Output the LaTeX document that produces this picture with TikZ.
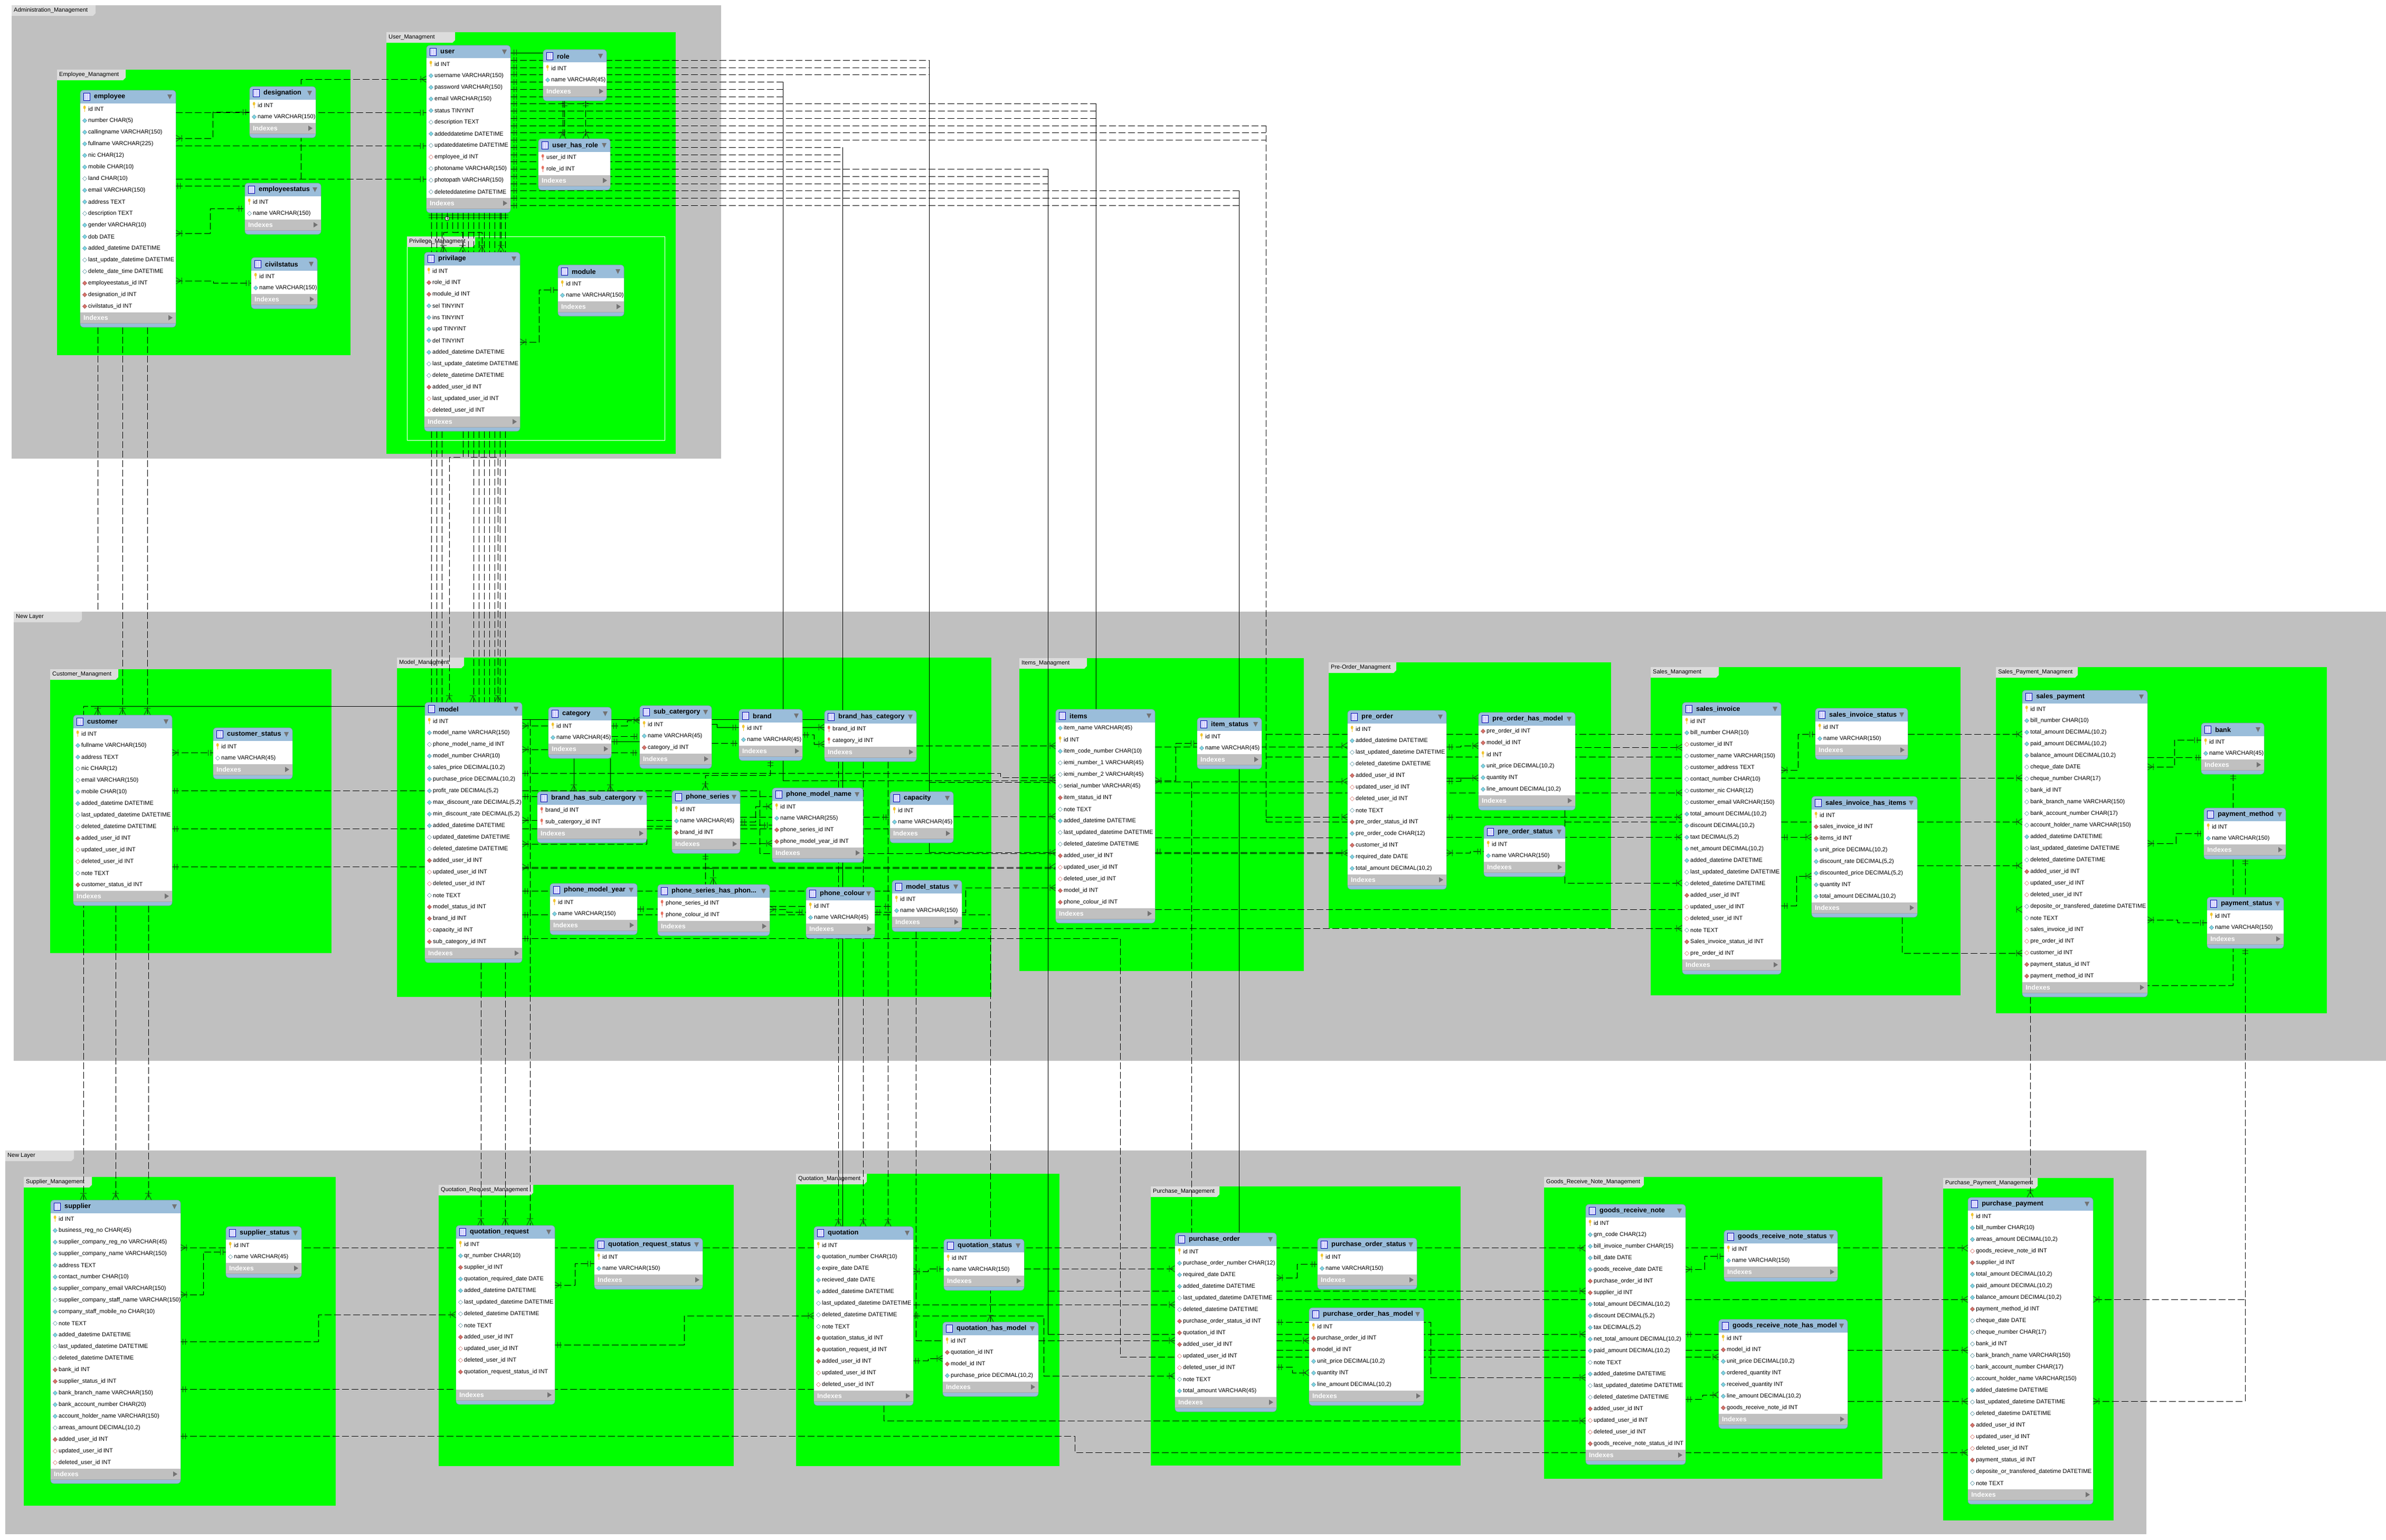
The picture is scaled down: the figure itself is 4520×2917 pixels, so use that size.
\documentclass[tikz,border=0pt]{standalone}
\usepackage{fontspec}
\setmainfont{Liberation Sans}
\pgfdeclarelayer{bgl}
\pgfdeclarelayer{lines}
\pgfsetlayers{bgl,lines,main}
\definecolor{hdr}{HTML}{9ABDDA}
\definecolor{idx}{HTML}{C0C0C0}
\definecolor{lay}{HTML}{C0C0C0}
\definecolor{tabc}{HTML}{DCDCDC}
\definecolor{grn}{HTML}{00FF00}
\definecolor{mkc}{HTML}{164F16}
\definecolor{dcy}{HTML}{7FD6E6}
\definecolor{dred}{HTML}{D9736B}
\definecolor{kyel}{HTML}{F2C530}
\definecolor{kred}{HTML}{E8705F}
\tikzset{
  fk/.style={black,line width=.9pt,dash pattern=on 13pt off 5pt},
  fks/.style={black,line width=.9pt},
  bus/.style={black,line width=.7pt},
  mk/.style={mkc,line width=1pt},
  rowtxt/.style={font=\fontsize{11}{13}\selectfont,anchor=west,inner sep=0pt,text=black},
  ttl/.style={font=\fontsize{12.8}{15}\selectfont\bfseries,anchor=west,inner sep=0pt,text=black},
  idxtxt/.style={font=\fontsize{12.5}{14}\selectfont\bfseries,anchor=west,inner sep=0pt,text=white},
  tabtxt/.style={font=\fontsize{11}{13}\selectfont,anchor=west,inner sep=0pt,text=black},
}
\newcounter{rwc}
% region box
\newcommand\region[8]{% name x1 y1 x2 y2 tabx label colour
  \fill[#8] (#2,#3) rectangle (#4,#5);
  \fill[tabc] (#2,#3) -- (#6,#3) -- (#6,#3+15) -- (#6-5,#3+20) -- (#2,#3+20) -- cycle;
  \node[tabtxt] (#1) at (#2+4,#3+10) {#7};
}
% table: name x1 x2 top title nrows rows
\newcommand\etab[7]{%
  \pgfmathsetmacro\tw{#3-#2}%
  \pgfmathsetmacro\th{53+22*#6}%
  \pgfmathsetmacro\yb{#4+24.5+22*#6}%
  \node[fill=hdr,draw=hdr!80!black,line width=.6pt,rounded corners=6pt,inner sep=0pt,outer sep=0pt,anchor=north west,minimum width=\tw pt,minimum height=\th pt] (#1) at (#2,#4) {};
  \fill[white] (#2,#4+24.5) rectangle (#3,\yb);
  \fill[idx] (#2,\yb) rectangle (#3,\yb+21);
  \draw[black!35,line width=.8pt] (#2,\yb+21) -- (#3,\yb+21);
  \draw[blue!70!black,fill=blue!12,line width=.8pt] (#2+6,#4+5) rectangle (#2+18,#4+19);
  \draw[blue!25,line width=.6pt] (#2+9,#4+7) -- (#2+9,#4+18) (#2+13,#4+7) -- (#2+13,#4+18);
  \fill[black!55] (#3-16,#4+8) -- (#3-7,#4+8) -- (#3-11.5,#4+17) -- cycle;
  \fill[black!55] (#3-14,\yb+5.5) -- (#3-14,\yb+15.5) -- (#3-6,\yb+10.5) -- cycle;
  \node[ttl] (#1-t) at (#2+26,#4+12.5) {#5};
  \node[idxtxt] (#1-i) at (#2+6,\yb+10.5) {Indexes};
  \def\cx{#2}\def\cy{#4}\def\cn{#1}\setcounter{rwc}{0}%
  #7%
}
\newcommand\rowtext[1]{\node[rowtxt] (\cn-\therwc) at (\cx+15,\ry) {#1};}
\newcommand\rowpos{\stepcounter{rwc}\pgfmathsetmacro\ry{\cy+24.5+22*(\therwc-0.5)}}
\newcommand\dia[2]{\draw[#2,fill=#1,line width=.6pt] (\cx+4.5,\ry) -- (\cx+8.5,\ry-4) -- (\cx+12.5,\ry) -- (\cx+8.5,\ry+4) -- cycle;}
\newcommand\keyicon[1]{\fill[#1] (\cx+7.5,\ry-1) rectangle (\cx+9,\ry+5);\fill[#1] (\cx+8.2,\ry-3) ellipse (2.4 and 3.4);}
\newcommand\rP[1]{\rowpos\keyicon{kyel}\rowtext{#1}}
\newcommand\rK[1]{\rowpos\keyicon{kred}\rowtext{#1}}
\newcommand\rF[1]{\rowpos\dia{dred}{dred!70!black}\rowtext{#1}}
\newcommand\rR[1]{\rowpos\dia{white}{dred}\rowtext{#1}}
\newcommand\rC[1]{\rowpos\dia{dcy}{dcy!70!black}\rowtext{#1}}
\newcommand\rE[1]{\rowpos\dia{white}{dcy!70!black}\rowtext{#1}}
% connectors
\newcommand\Hh[3]{\draw[fk] (#1 |- 0,#3) -- (#2 |- 0,#3);}
\newcommand\Hs[3]{\draw[fks] (#1 |- 0,#3) -- (#2 |- 0,#3);}
\newcommand\Zz[5]{\draw[fk] (#1 |- 0,#2) -- (#3,#2) -- (#3,#4) -- (#5 |- 0,#4);}
\newcommand\Vv[3]{\draw[fk] (#2 -| #1,0) -- (#3 -| #1,0);}
\newcommand\Vs[3]{\draw[bus] (#2 -| #1,0) -- (#3 -| #1,0);}
% marks
\newcommand\bH[2]{\draw[mk] (#1-2.5,#2-5.5) -- (#1-2.5,#2+5.5) (#1+2.5,#2-5.5) -- (#1+2.5,#2+5.5);}
\newcommand\bV[2]{\draw[mk] (#1-5.5,#2-2.5) -- (#1+5.5,#2-2.5) (#1-5.5,#2+2.5) -- (#1+5.5,#2+2.5);}
\newcommand\cL[2]{\draw[mk] (#1,#2-6) -- (#1-10,#2) -- (#1,#2+6) (#1-11,#2-6) -- (#1-11,#2+6);}
\newcommand\cR[2]{\draw[mk] (#1,#2-6) -- (#1+10,#2) -- (#1,#2+6) (#1+11,#2-6) -- (#1+11,#2+6);}
\newcommand\cD[2]{\draw[mk] (#1-6,#2) -- (#1,#2-12) -- (#1+6,#2) (#1-6,#2-13) -- (#1+6,#2-13);}
\begin{document}
\catcode`\_=12
\begin{tikzpicture}[x=1pt,y=-1pt]
\useasboundingbox (0,0) rectangle (4520,2917);
\begin{pgfonlayer}{bgl}
\fill[white] (0,0) rectangle (4520,2917);
\region{lgA}{22}{10}{1366}{869}{181}{Administration_Management}{lay}
\region{lgB}{26}{1159}{4520}{2010}{155}{New Layer}{lay}
\region{lgC}{10}{2180}{4066}{2907}{140}{New Layer}{lay}
\region{gEmp}{108}{132}{664}{673}{238}{Employee_Managment}{grn}
\region{gUsr}{732}{61}{1280}{860}{862}{User_Managment}{grn}
\draw[white,line width=.8pt] (771,448) rectangle (1259,834);
\fill[tabc] (771,448) -- (900,448) -- (900,463) -- (895,468) -- (771,468) -- cycle;
\node[tabtxt] (gPriv) at (775,458) {Privilege_Managment};
\region{gCus}{95}{1268}{628}{1806}{224}{Customer_Managment}{grn}
\region{gMod}{752}{1246}{1878}{1889}{879}{Model_Managment}{grn}
\region{gItm}{1931}{1247}{2470}{1840}{2059}{Items_Managment}{grn}
\region{gPre}{2517}{1255}{3052}{1759}{2645}{Pre-Order_Managment}{grn}
\region{gSal}{3127}{1264}{3714}{1886}{3256}{Sales_Managment}{grn}
\region{gSpy}{3781}{1264}{4408}{1920}{3936}{Sales_Payment_Managment}{grn}
\region{gSup}{45}{2230}{636}{2853}{174}{Supplier_Management}{grn}
\region{gQrq}{831}{2245}{1390}{2778}{1010}{Quotation_Request_Management}{grn}
\region{gQuo}{1508}{2224}{2007}{2778}{1642}{Quotation_Management}{grn}
\region{gPur}{2180}{2248}{2767}{2777}{2310}{Purchase_Management}{grn}
\region{gGrn}{2925}{2230}{3566}{2802}{3114}{Goods_Receive_Note_Management}{grn}
\region{gPpy}{3681}{2232}{4004}{2881}{3860}{Purchase_Payment_Management}{grn}
\end{pgfonlayer}
% ---------- tables ----------
\etab{employee}{152}{333}{171}{employee}{18}{\rP{id INT}\rC{number CHAR(5)}\rC{callingname VARCHAR(150)}\rC{fullname VARCHAR(225)}\rC{nic CHAR(12)}\rC{mobile CHAR(10)}\rE{land CHAR(10)}\rC{email VARCHAR(150)}\rC{address TEXT}\rE{description TEXT}\rC{gender VARCHAR(10)}\rC{dob DATE}\rC{added_datetime DATETIME}\rE{last_update_datetime DATETIME}\rE{delete_date_time DATETIME}\rF{employeestatus_id INT}\rF{designation_id INT}\rF{civilstatus_id INT}}
\etab{designation}{473}{598}{164}{designation}{2}{\rP{id INT}\rC{name VARCHAR(150)}}
\etab{employeestatus}{464}{608}{347}{employeestatus}{2}{\rP{id INT}\rE{name VARCHAR(150)}}
\etab{civilstatus}{476}{601}{488}{civilstatus}{2}{\rP{id INT}\rC{name VARCHAR(150)}}
\etab{user}{808}{967}{86}{user}{12}{\rP{id INT}\rC{username VARCHAR(150)}\rC{password VARCHAR(150)}\rC{email VARCHAR(150)}\rC{status TINYINT}\rE{description TEXT}\rC{addeddatetime DATETIME}\rE{updateddatetime DATETIME}\rR{employee_id INT}\rE{photoname VARCHAR(150)}\rE{photopath VARCHAR(150)}\rE{deleteddatetime DATETIME}}
\etab{role}{1029}{1149}{94}{role}{2}{\rP{id INT}\rC{name VARCHAR(45)}}
\etab{user_has_role}{1020}{1156}{263}{user_has_role}{2}{\rK{user_id INT}\rK{role_id INT}}
\etab{privilage}{804}{985}{478}{privilage}{13}{\rP{id INT}\rF{role_id INT}\rF{module_id INT}\rC{sel TINYINT}\rC{ins TINYINT}\rC{upd TINYINT}\rC{del TINYINT}\rC{added_datetime DATETIME}\rE{last_update_datetime DATETIME}\rE{delete_datetime DATETIME}\rF{added_user_id INT}\rR{last_updated_user_id INT}\rR{deleted_user_id INT}}
\etab{module}{1057}{1182}{502}{module}{2}{\rP{id INT}\rC{name VARCHAR(150)}}
\etab{customer}{139}{326}{1355}{customer}{14}{\rP{id INT}\rC{fullname VARCHAR(150)}\rC{address TEXT}\rE{nic CHAR(12)}\rE{email VARCHAR(150)}\rC{mobile CHAR(10)}\rC{added_datetime DATETIME}\rE{last_updated_datetime DATETIME}\rE{deleted_datetime DATETIME}\rF{added_user_id INT}\rR{updated_user_id INT}\rR{deleted_user_id INT}\rE{note TEXT}\rF{customer_status_id INT}}
\etab{customer_status}{404}{554}{1379}{customer_status}{2}{\rP{id INT}\rE{name VARCHAR(45)}}
\etab{model}{805}{989}{1331}{model}{20}{\rP{id INT}\rC{model_name VARCHAR(150)}\rE{phone_model_name_id INT}\rC{model_number CHAR(10)}\rC{sales_price DECIMAL(10,2)}\rC{purchase_price DECIMAL(10,2)}\rC{profit_rate DECIMAL(5,2)}\rC{max_discount_rate DECIMAL(5,2)}\rC{min_discount_rate DECIMAL(5,2)}\rC{added_datetime DATETIME}\rE{updated_datetime DATETIME}\rE{deleted_datetime DATETIME}\rF{added_user_id INT}\rR{updated_user_id INT}\rR{deleted_user_id INT}\rE{note TEXT}\rF{model_status_id INT}\rF{brand_id INT}\rR{capacity_id INT}\rF{sub_category_id INT}}
\etab{category}{1039}{1158}{1340}{category}{2}{\rP{id INT}\rC{name VARCHAR(45)}}
\etab{sub_catergory}{1212}{1348}{1337}{sub_catergory}{3}{\rP{id INT}\rC{name VARCHAR(45)}\rF{category_id INT}}
\etab{brand}{1400}{1520}{1344}{brand}{2}{\rP{id INT}\rC{name VARCHAR(45)}}
\etab{brand_has_category}{1562}{1736}{1346}{brand_has_category}{2}{\rK{brand_id INT}\rK{category_id INT}}
\etab{brand_has_sub_catergory}{1018}{1225}{1500}{brand_has_sub_catergory}{2}{\rK{brand_id INT}\rK{sub_catergory_id INT}}
\etab{phone_series}{1273}{1402}{1498}{phone_series}{3}{\rP{id INT}\rC{name VARCHAR(45)}\rF{brand_id INT}}
\etab{phone_model_name}{1463}{1635}{1493}{phone_model_name}{4}{\rP{id INT}\rC{name VARCHAR(255)}\rF{phone_series_id INT}\rF{phone_model_year_id INT}}
\etab{capacity}{1686}{1806}{1500}{capacity}{2}{\rP{id INT}\rC{name VARCHAR(45)}}
\etab{phone_model_year}{1042}{1207}{1674}{phone_model_year}{2}{\rP{id INT}\rC{name VARCHAR(150)}}
\etab{phone_series_has}{1246}{1458}{1676}{phone_series_has_phon...}{2}{\rK{phone_series_id INT}\rK{phone_colour_id INT}}
\etab{phone_colour}{1527}{1657}{1681}{phone_colour}{2}{\rP{id INT}\rC{name VARCHAR(45)}}
\etab{model_status}{1690}{1822}{1668}{model_status}{2}{\rP{id INT}\rC{name VARCHAR(150)}}
\etab{items}{2000}{2188}{1344}{items}{16}{\rC{item_name VARCHAR(45)}\rP{id INT}\rC{item_code_number CHAR(10)}\rE{iemi_number_1 VARCHAR(45)}\rE{iemi_number_2 VARCHAR(45)}\rE{serial_number VARCHAR(45)}\rF{item_status_id INT}\rE{note TEXT}\rC{added_datetime DATETIME}\rE{last_updated_datetime DATETIME}\rE{deleted_datetime DATETIME}\rF{added_user_id INT}\rR{updated_user_id INT}\rR{deleted_user_id INT}\rF{model_id INT}\rF{phone_colour_id INT}}
\etab{item_status}{2268}{2390}{1360}{item_status}{2}{\rP{id INT}\rC{name VARCHAR(45)}}
\etab{pre_order}{2553}{2740}{1346}{pre_order}{13}{\rP{id INT}\rC{added_datetime DATETIME}\rE{last_updated_datetime DATETIME}\rE{deleted_datetime DATETIME}\rF{added_user_id INT}\rR{updated_user_id INT}\rR{deleted_user_id INT}\rE{note TEXT}\rF{pre_order_status_id INT}\rC{pre_order_code CHAR(12)}\rF{customer_id INT}\rC{required_date DATE}\rC{total_amount DECIMAL(10,2)}}
\etab{pre_order_has_model}{2801}{2984}{1350}{pre_order_has_model}{6}{\rF{pre_order_id INT}\rF{model_id INT}\rP{id INT}\rC{unit_price DECIMAL(10,2)}\rC{quantity INT}\rC{line_amount DECIMAL(10,2)}}
\etab{pre_order_status}{2811}{2965}{1564}{pre_order_status}{2}{\rP{id INT}\rC{name VARCHAR(150)}}
\etab{sales_invoice}{3187}{3374}{1331}{sales_invoice}{21}{\rP{id INT}\rC{bill_number CHAR(10)}\rR{customer_id INT}\rE{customer_name VARCHAR(150)}\rE{customer_address TEXT}\rE{contact_number CHAR(10)}\rE{customer_nic CHAR(12)}\rE{customer_email VARCHAR(150)}\rC{total_amount DECIMAL(10,2)}\rC{discount DECIMAL(10,2)}\rC{taxt DECIMAL(5,2)}\rC{net_amount DECIMAL(10,2)}\rC{added_datetime DATETIME}\rE{last_updated_datetime DATETIME}\rE{deleted_datetime DATETIME}\rF{added_user_id INT}\rR{updated_user_id INT}\rR{deleted_user_id INT}\rE{note TEXT}\rF{Sales_invoice_status_id INT}\rR{pre_order_id INT}}
\etab{sales_invoice_status}{3439}{3614}{1342}{sales_invoice_status}{2}{\rP{id INT}\rC{name VARCHAR(150)}}
\etab{sales_invoice_has_items}{3432}{3632}{1509}{sales_invoice_has_items}{8}{\rP{id INT}\rF{sales_invoice_id INT}\rF{items_id INT}\rC{unit_price DECIMAL(10,2)}\rC{discount_rate DECIMAL(5,2)}\rC{discounted_price DECIMAL(5,2)}\rC{quantity INT}\rC{total_amount DECIMAL(10,2)}}
\etab{sales_payment}{3831}{4068}{1308}{sales_payment}{24}{\rP{id INT}\rC{bill_number CHAR(10)}\rC{total_amount DECIMAL(10,2)}\rC{paid_amount DECIMAL(10,2)}\rC{balance_amount DECIMAL(10,2)}\rE{cheque_date DATE}\rE{cheque_number CHAR(17)}\rE{bank_id INT}\rE{bank_branch_name VARCHAR(150)}\rE{bank_account_number CHAR(17)}\rE{account_holder_name VARCHAR(150)}\rC{added_datetime DATETIME}\rE{last_updated_datetime DATETIME}\rE{deleted_datetime DATETIME}\rF{added_user_id INT}\rR{updated_user_id INT}\rR{deleted_user_id INT}\rE{deposite_or_transfered_datetime DATETIME}\rE{note TEXT}\rR{sales_invoice_id INT}\rR{pre_order_id INT}\rR{customer_id INT}\rF{payment_status_id INT}\rF{payment_method_id INT}}
\etab{bank}{4170}{4289}{1370}{bank}{2}{\rP{id INT}\rC{name VARCHAR(45)}}
\etab{payment_method}{4175}{4330}{1531}{payment_method}{2}{\rP{id INT}\rC{name VARCHAR(150)}}
\etab{payment_status}{4181}{4326}{1700}{payment_status}{2}{\rP{id INT}\rC{name VARCHAR(150)}}
\etab{supplier}{96}{342}{2274}{supplier}{22}{\rP{id INT}\rC{business_reg_no CHAR(45)}\rC{supplier_company_reg_no VARCHAR(45)}\rC{supplier_company_name VARCHAR(150)}\rC{address TEXT}\rC{contact_number CHAR(10)}\rC{supplier_company_email VARCHAR(150)}\rE{supplier_company_staff_name VARCHAR(150)}\rC{company_staff_mobile_no CHAR(10)}\rE{note TEXT}\rC{added_datetime DATETIME}\rE{last_updated_datetime DATETIME}\rE{deleted_datetime DATETIME}\rF{bank_id INT}\rF{supplier_status_id INT}\rC{bank_branch_name VARCHAR(150)}\rC{bank_account_number CHAR(20)}\rC{account_holder_name VARCHAR(150)}\rE{arreas_amount DECIMAL(10,2)}\rF{added_user_id INT}\rR{updated_user_id INT}\rR{deleted_user_id INT}}
\etab{supplier_status}{428}{571}{2324}{supplier_status}{2}{\rP{id INT}\rE{name VARCHAR(45)}}
\etab{quotation_request}{864}{1051}{2322}{quotation_request}{13}{\rP{id INT}\rC{qr_number CHAR(10)}\rF{supplier_id INT}\rC{quotation_required_date DATE}\rC{added_datetime DATETIME}\rE{last_updated_datetime DATETIME}\rE{deleted_datetime DATETIME}\rE{note TEXT}\rF{added_user_id INT}\rR{updated_user_id INT}\rR{deleted_user_id INT}\rF{quotation_request_status_id INT}\rowpos}
\etab{quotation_request_status}{1126}{1331}{2346}{quotation_request_status}{2}{\rP{id INT}\rC{name VARCHAR(150)}}
\etab{quotation}{1542}{1730}{2324}{quotation}{13}{\rP{id INT}\rC{quotation_number CHAR(10)}\rC{expire_date DATE}\rC{recieved_date DATE}\rC{added_datetime DATETIME}\rE{last_updated_datetime DATETIME}\rE{deleted_datetime DATETIME}\rE{note TEXT}\rF{quotation_status_id INT}\rF{quotation_request_id INT}\rF{added_user_id INT}\rR{updated_user_id INT}\rR{deleted_user_id INT}}
\etab{quotation_status}{1788}{1940}{2348}{quotation_status}{2}{\rP{id INT}\rC{name VARCHAR(150)}}
\etab{quotation_has_model}{1786}{1967}{2505}{quotation_has_model}{4}{\rP{id INT}\rF{quotation_id INT}\rF{model_id INT}\rC{purchase_price DECIMAL(10,2)}}
\etab{purchase_order}{2226}{2418}{2336}{purchase_order}{13}{\rP{id INT}\rC{purchase_order_number CHAR(12)}\rC{required_date DATE}\rC{added_datetime DATETIME}\rE{last_updated_datetime DATETIME}\rE{deleted_datetime DATETIME}\rF{purchase_order_status_id INT}\rF{quotation_id INT}\rF{added_user_id INT}\rR{updated_user_id INT}\rR{deleted_user_id INT}\rE{note TEXT}\rC{total_amount VARCHAR(45)}}
\etab{purchase_order_status}{2496}{2684}{2346}{purchase_order_status}{2}{\rP{id INT}\rC{name VARCHAR(150)}}
\etab{purchase_order_has_model}{2480}{2697}{2478}{purchase_order_has_model}{6}{\rP{id INT}\rF{purchase_order_id INT}\rF{model_id INT}\rC{unit_price DECIMAL(10,2)}\rC{quantity INT}\rC{line_amount DECIMAL(10,2)}}
\etab{goods_receive_note}{3004}{3193}{2282}{goods_receive_note}{20}{\rP{id INT}\rC{grn_code CHAR(12)}\rC{bill_invoice_number CHAR(15)}\rC{bill_date DATE}\rC{goods_receive_date DATE}\rF{purchase_order_id INT}\rF{supplier_id INT}\rC{total_amount DECIMAL(10,2)}\rC{discount DECIMAL(5,2)}\rC{tax DECIMAL(5,2)}\rC{net_total_amount DECIMAL(10,2)}\rC{paid_amount DECIMAL(10,2)}\rE{note TEXT}\rC{added_datetime DATETIME}\rE{last_updated_datetime DATETIME}\rE{deleted_datetime DATETIME}\rF{added_user_id INT}\rR{updated_user_id INT}\rR{deleted_user_id INT}\rF{goods_receive_note_status_id INT}}
\etab{goods_receive_note_status}{3266}{3481}{2331}{goods_receive_note_status}{2}{\rP{id INT}\rC{name VARCHAR(150)}}
\etab{goods_receive_note_has_model}{3256}{3500}{2500}{goods_receive_note_has_model}{7}{\rP{id INT}\rF{model_id INT}\rC{unit_price DECIMAL(10,2)}\rC{ordered_quantity INT}\rC{received_quantity INT}\rC{line_amount DECIMAL(10,2)}\rF{goods_receive_note_id INT}}
\etab{purchase_payment}{3728}{3965}{2269}{purchase_payment}{24}{\rP{id INT}\rC{bill_number CHAR(10)}\rC{arreas_amount DECIMAL(10,2)}\rR{goods_recieve_note_id INT}\rF{supplier_id INT}\rC{total_amount DECIMAL(10,2)}\rC{paid_amount DECIMAL(10,2)}\rC{balance_amount DECIMAL(10,2)}\rF{payment_method_id INT}\rE{cheque_date DATE}\rE{cheque_number CHAR(17)}\rE{bank_id INT}\rE{bank_branch_name VARCHAR(150)}\rE{bank_account_number CHAR(17)}\rE{account_holder_name VARCHAR(150)}\rC{added_datetime DATETIME}\rE{last_updated_datetime DATETIME}\rE{deleted_datetime DATETIME}\rF{added_user_id INT}\rR{updated_user_id INT}\rR{deleted_user_id INT}\rF{payment_status_id INT}\rE{deposite_or_transfered_datetime DATETIME}\rE{note TEXT}}
% ---------- buses ----------
\coordinate (b1483) at (1483,0);\coordinate (b1596) at (1596,0);\coordinate (b1760) at (1760,0);
\coordinate (b1985) at (1985,0);\coordinate (b2076) at (2076,0);\coordinate (b2347) at (2347,0);
\coordinate (b2398) at (2398,0);\coordinate (b1876) at (1876,0);\coordinate (b1682) at (1682,0);
\coordinate (b2964) at (2964,0);\coordinate (b4253) at (4253,0);\coordinate (j185) at (185,1155);
\begin{pgfonlayer}{lines}
% ---- administration
\Zz{employee.east}{262}{403}{212.5}{designation.west}
\Zz{employee.east}{442}{398}{395}{employeestatus.west}
\Zz{employee.east}{532}{404}{536}{civilstatus.west}
\Hh{employee.east}{user.west}{213}\Hh{employee.east}{user.west}{276}\Hh{employee.east}{user.west}{339.5}
\Hh{employee.east}{employeestatus.west}{352}
\draw[fk] (user.west |- 0,150) -- (570.5,150) -- (570.5,339.5);
\cR{333}{262}\bH{463}{212.5}\cR{333}{442}\bH{455}{395}\cR{333}{532}\bH{469}{536}
\bH{799}{213}\bH{799}{276}\bH{799}{339.5}\cL{808}{150}\bH{339}{352}
\Hs{user.east}{role.west}{100}
\foreach \yy/\bb in {114/b1760,128/b1760,141/b1760,155/b1483,169/b1483,183/b1483,196/b2076,210/b2076,224/b2076,238/b2398,251/b2398,265/b2398,279/b1596,293/b1596,306/b1596,320/b1985,334/b1985,348/b1985,361/b2347,375/b2347,389/b2347}{\Hh{user.east}{\bb}{\yy}\bH{976}{\yy}}
\bH{976}{100}
\draw[bus] (b1760 |- 0,114) -- (b1760 |- 0,1615);
\draw[bus] (b1483 |- 0,155) -- (b1483 |- 0,1479);
\draw[bus] (b2076 |- 0,196) -- (b2076 |- 0,1415);
\draw[fk] (b2398 |- 0,238) -- (b2398 |- 0,1557);
\draw[bus] (b1596 |- 0,279) -- (1596,2324);
\draw[bus] (b1985 |- 0,320) -- (b1985 |- 0,2528);
\draw[bus] (b2347 |- 0,361) -- (b2347 |- 0,2400);
\Vv{1066}{role.south}{user_has_role.north}\Vv{1069}{role.south}{user_has_role.north}\Vv{1109}{role.south}{user_has_role.north}
\bV{1069}{198}\bV{1109}{198}\cD{1066}{263}\cD{1110}{263}
\foreach \xx in {817,827,837,847,857,867,877,887,897,907,917,927,937,947,957}{\bV{\xx}{410}}
\draw[black,fill=white,line width=.8pt] (847,414) circle (4);
\draw[fk] (user.south -| 847,0) -- (847,440) -- (840,440) -- (privilage.north -| 840,0);
\draw[fk] (user.south -| 857,0) -- (857,440) -- (876,440) -- (privilage.north -| 876,0);
\draw[fk] (user.south -| 867,0) -- (867,440);
\draw[fk] (user.south -| 887,0) -- (887,440) -- (913,440) -- (privilage.north -| 913,0);
\draw[fk] (user.south -| 877,0) -- (877,866) -- (851,866) -- (model.north -| 851,0);
\draw[fk] (user.south -| 887,0) -- (887,866) -- (943,866) -- (model.north -| 943,0);
\foreach \xx in {817,827,837,897,917,927,937,947}{\Vv{\xx}{user.south}{model.north}}
\Vv{907}{user.south}{model.north}\Vv{957}{user.south}{model.north}
\Vv{949}{user.south}{privilage.north}
\cD{840}{478}\cD{876}{478}\cD{913}{478}\cD{949}{478}
\Zz{privilage.east}{648}{1021}{549}{module.west}\cR{985}{648}\bH{1046}{549}
\cD{851}{1331}\cD{896}{1331}\cD{943}{1331}
% ---- customer / supplier verticals
\draw[fk] (employee.south -| j185) -- (j185);
\Vv{232}{employee.south}{customer.north}\Vv{279}{employee.south}{customer.north}
\cD{185}{1355}\cD{232}{1355}\cD{279}{1355}
\draw[fks] (model.west |- 0,1338) -- (185,1338) -- (customer.north -| 185,0);
\draw[fk] (185,1338) -- (158,1338) -- (supplier.north -| 158,0);
\Vv{219}{customer.south}{supplier.north}\Vv{281}{customer.south}{supplier.north}
\cD{158}{2274}\cD{219}{2274}\cD{281}{2274}
\Hh{customer.east}{customer_status.west}{1426}\cR{326}{1426}\bH{397}{1426}
\Hh{customer.east}{model.west}{1498}\Hh{customer.east}{model.west}{1570}\Hh{customer.east}{model.west}{1642}
\bH{333}{1498}\bH{333}{1570}\bH{333}{1642}
\Vv{911}{model.south}{quotation_request.north}\Vv{957}{model.south}{quotation_request.north}
\draw[fk] (1004,1363) -- (quotation_request.north -| 1004,0);
\cD{911}{2322}\cD{957}{2322}\cD{1004}{2322}
% ---- model group
\Hs{model.east}{brand_has_category.west}{1363}
\Hh{model.east}{category.west}{1375}\Hh{model.east}{category.west}{1420}
\cR{989}{1375}\cR{989}{1420}\cR{989}{1554}\cR{989}{1599}\cR{989}{1643}
\foreach \yy in {1465,1509,1688,1733,1778}{\bH{997}{\yy}}
\Zz{category.east}{1375}{1188}{1365}{sub_catergory.west}\cL{1212}{1365}\bH{1165}{1375}
\Hh{category.east}{sub_catergory.west}{1395}\bH{1204}{1395}
\Hs{category.east}{sub_catergory.west}{1405}\bH{1166}{1405}
\Hh{category.east}{sub_catergory.west}{1426}\bH{1202}{1426}
\draw[fks] (sub_catergory.east |- 0,1372) -- (1358,1372) -- (1358,1378) -- (brand.west |- 0,1378);
\bH{1391}{1378}
\Hh{sub_catergory.east}{brand.west}{1408}\bH{1391}{1408}
\Hs{brand.east}{brand_has_category.west}{1378}\cL{1562}{1378}
\Zz{brand.east}{1392}{1542}{1410}{brand_has_category.west}\bH{1527}{1392}\cL{1562}{1410}
\Hh{brand_has_category.east}{items.west}{1413}
\draw[fk] (brand.south -| 1459,0) -- (1459,1469) -- (1336,1469) -- (phone_series.north -| 1336,0);
\bV{1459}{1448}\cD{1336}{1498}
\Vs{1087}{category.south}{brand_has_sub_catergory.north}\Vs{1156}{category.south}{brand_has_sub_catergory.north}
\cD{1087}{1500}\cD{1156}{1500}
\Zz{model.east}{1465}{1895}{1473}{items.west}
\Hh{b1483}{items.west}{1479}
\Hh{b1760}{items.west}{1482}
\Zz{model.east}{1498}{1439}{1617}{items.west}
\Hh{model.east}{phone_model_name.west}{1509}
\Hh{model.east}{brand_has_sub_catergory.west}{1554}
\Hh{brand_has_sub_catergory.east}{phone_series.west}{1554}
\Hh{brand_has_sub_catergory.east}{phone_series.west}{1565}
\Hh{phone_series.east}{phone_model_name.west}{1548}
\Hh{phone_series.east}{phone_model_name.west}{1563}\bH{1451}{1563}
\Hh{phone_model_name.east}{capacity.west}{1548}\bH{1676}{1548}
\Hh{capacity.east}{items.west}{1547}
\Hh{model.east}{b1682}{1570}
\draw[fk] (model.east |- 0,1599) -- (1225,1599) -- (1225,1590);
\Zz{phone_series.east}{1557}{1431}{1528}{phone_model_name.west}\bH{1408}{1557}\cL{1463}{1528}
\Hh{phone_series.east}{phone_model_name.west}{1598}\cL{1463}{1598}
\Hh{b1760}{items.west}{1615}
\Hh{model.east}{items.west}{1643}\Hh{model.east}{items.west}{1645}
\Vv{1336}{phone_series.south}{phone_series_has.north}
\draw[fk] (1336,1645) -- (1351,1645) -- (phone_series_has.north -| 1351,0);
\bV{1336}{1625}\cD{1351}{1676}
\Hh{model.east}{model_status.west}{1688}
\Zz{model_status.east}{1729}{1829}{1682}{items.west}
\Hh{model.east}{b1876}{1733}
\Hh{phone_model_year.east}{phone_series_has.west}{1722}\bH{1216}{1722}
\Zz{phone_series_has.east}{1723}{1490}{1728}{phone_colour.west}\cR{1458}{1723}\bH{1517}{1728}
\Hh{phone_series_has.east}{model_status.west}{1717}\bH{1680}{1717}
\Hh{phone_colour.east}{model_status.west}{1728}\bH{1664}{1728}
\Hh{model_status.east}{sales_invoice.west}{1759}
\draw[fk] (model.east |- 0,1778) -- (2122,1778) -- (2122,2571) -- (purchase_order.west |- 0,2571);
\draw[fk] (model_status.south -| 1735,0) -- (1735,2540) -- (quotation_has_model.west |- 0,2540);
\Vv{1588}{brand_has_category.south}{quotation.north}\Vv{1635}{brand_has_category.south}{quotation.north}\Vv{1682}{brand_has_category.south}{quotation.north}
\cD{1588}{2324}\cD{1635}{2324}\cD{1682}{2324}
% ---- items / pre-order
\foreach \yy in {1413,1473,1479,1547,1615,1642,1682}{\cL{2000}{\yy}}
\Zz{items.east}{1479}{2227}{1408.5}{item_status.west}\cR{2188}{1479}\bH{2259}{1408.5}
\Hh{items.east}{pre_order.west}{1415}\Hh{items.east}{pre_order.west}{1481}
\Hh{b2076}{items.east}{1415}
\Hh{items.east}{sales_invoice.west}{1502}
\Hh{items.east}{pre_order.west}{1587}
\Hh{items.east}{pre_order.west}{1615}\Hh{items.east}{pre_order.west}{1617}\bH{2195}{1613}
\Hh{items.east}{sales_invoice.west}{1723}
\draw[fk] (2257,1481) -- (purchase_order.north -| 2257,0);
\Hh{b2398}{sales_invoice.west}{1391}\Hh{b2398}{sales_invoice.west}{1434}
\Hh{b2398}{pre_order.west}{1548}\Hh{b2398}{pre_order.west}{1557}
\foreach \yy in {1413,1480,1548,1616}{\cL{2553}{\yy}}
\Zz{pre_order.east}{1415}{2767}{1413}{pre_order_has_model.west}\bH{2748}{1415}\cL{2801}{1413}
\Zz{pre_order.east}{1480}{2767}{1474}{pre_order_has_model.west}\bH{2748}{1480}\cL{2801}{1474}
\Hh{pre_order_has_model.east}{sales_invoice.west}{1416}
\Hh{pre_order.east}{sales_payment.west}{1474}
\Hh{pre_order.east}{sales_invoice.west}{1548}\bH{2748}{1548}
\draw[fk] (pre_order_has_model.south -| b2964) -- (2964,1673) -- (sales_invoice.west |- 0,1673);
\Hh{b2964}{sales_invoice.west}{1557}
\Hh{pre_order.east}{sales_invoice.west}{1586}
\Zz{pre_order.east}{1616}{2785}{1613}{pre_order_status.west}\cR{2740}{1616}\bH{2802}{1613}
% ---- sales
\foreach \yy in {1416,1502,1548,1586,1673,1759}{\cL{3187}{\yy}}
\Zz{sales_invoice.east}{1459}{3406}{1391}{sales_invoice_status.west}\cR{3374}{1459}\bH{3431}{1391}
\Hh{sales_invoice_status.east}{sales_payment.west}{1391}
\Hh{sales_invoice.east}{sales_invoice_has_items.west}{1557}\Hh{sales_invoice_has_items.east}{sales_payment.west}{1557}
\Hh{sales_invoice.east}{sales_invoice_has_items.west}{1586}\bH{3383}{1586}\cL{3432}{1586}
\Hh{sales_invoice_has_items.east}{sales_payment.west}{1640}
\Zz{sales_invoice.east}{1716}{3403}{1660}{sales_invoice_has_items.west}\bH{3383}{1716}\cL{3432}{1660}
\draw[fk] (sales_invoice_has_items.south -| 3603,0) -- (3603,1806) -- (sales_payment.west |- 0,1806);
\foreach \yy in {1391,1474,1557,1640,1723,1806}{\cL{3831}{\yy}}
\Hh{sales_payment.east}{bank.west}{1435}\bH{4163}{1435}
\Zz{sales_payment.east}{1453}{4119}{1402}{bank.west}\cR{4068}{1453}\bH{4160}{1402}
\Zz{sales_payment.east}{1598}{4122}{1579}{payment_method.west}\cR{4068}{1598}\bH{4166}{1579}
\Zz{sales_payment.east}{1743}{4125}{1748}{payment_status.west}\cR{4068}{1743}\bH{4171}{1748}
\draw[fk] (bank.south -| 4230,0) -- (4230,1867) -- (sales_payment.east |- 0,1867);
\bV{4230}{1473}
\draw[fk] (payment_method.south -| b4253) -- (payment_status.north -| b4253);
\bV{4253}{1634}\bV{4253}{1804}
\draw[fk] (payment_status.south -| b4253) -- (4253,2462) -- (purchase_payment.east |- 0,2462);
\draw[fk] (4253,2462) -- (4253,2655) -- (purchase_payment.east |- 0,2655);
\Vv{3846}{sales_payment.south}{purchase_payment.north}\cD{3846}{2269}
% ---- lower layer
\Hh{supplier.east}{purchase_payment.west}{2364}\cR{342}{2364}
\Zz{supplier.east}{2453}{385}{2372}{supplier_status.west}\cR{342}{2453}\bH{420}{2372}
\Zz{supplier.east}{2542}{603}{2491}{quotation_request.west}\bH{349}{2542}\cL{864}{2491}
\Hh{supplier.east}{quotation.west}{2632}\bH{349}{2632}
\Zz{supplier.east}{2721}{2036}{2752}{purchase_payment.west}\bH{349}{2721}
\Zz{quotation_request.east}{2435}{1089}{2394}{quotation_request_status.west}\cR{1051}{2435}\bH{1116}{2394}
\Zz{quotation_request.east}{2548}{1296}{2493}{quotation.west}\bH{1059}{2548}\cL{1542}{2493}
\Zz{quotation.east}{2409}{1758}{2404}{quotation_status.west}\cR{1730}{2409}\bH{1778}{2404}
\Hh{quotation_status.east}{purchase_order.west}{2404}
\Hh{quotation.east}{purchase_order.west}{2472}
\Zz{quotation.east}{2493}{1977}{2607}{purchase_order.west}\bH{1736}{2493}
\Zz{quotation.east}{2578}{1758}{2574}{quotation_has_model.west}\bH{1737}{2578}\cL{1786}{2574}
\draw[fk] (quotation.south -| 1674,0) -- (1674,2692) -- (goods_receive_note.west |- 0,2692);
\Vv{1876}{quotation_has_model.north}{model_status.south}
\Hh{quotation_has_model.east}{purchase_order_has_model.west}{2540}
\cD{1876}{2505}
\foreach \yy in {2404,2472,2540,2607}{\cL{2226}{\yy}}
\Hh{b1985}{goods_receive_note.west}{2446}\Hh{b1985}{goods_receive_note.west}{2528}
\Zz{purchase_order.east}{2421}{2457}{2395}{purchase_order_status.west}\cR{2418}{2421}\bH{2488}{2395}
\Zz{purchase_order.east}{2505}{2710}{2610}{goods_receive_note.west}\bH{2425}{2505}
\Zz{purchase_order.east}{2590}{2448}{2601}{purchase_order_has_model.west}\bH{2425}{2590}\cL{2480}{2601}
\cL{2480}{2540}
\Hh{purchase_order.east}{goods_receive_note.west}{2558}
\Hh{purchase_order.east}{goods_receive_note_has_model.west}{2571}
\Hh{purchase_order.east}{purchase_payment.west}{2462}
\foreach \yy in {2365,2446,2528,2610,2692}{\cL{3004}{\yy}}
\Zz{goods_receive_note.east}{2405}{3229}{2380}{goods_receive_note_status.west}\cR{3193}{2405}\bH{3256}{2380}
\Hh{goods_receive_note.east}{purchase_payment.west}{2558}
\Hh{goods_receive_note.east}{goods_receive_note_has_model.west}{2528}\bH{3200}{2528}
\Hh{goods_receive_note_has_model.east}{purchase_payment.west}{2655}
\Zz{goods_receive_note.east}{2651}{3225}{2643}{goods_receive_note_has_model.west}\bH{3200}{2651}\cL{3256}{2643}
\cL{3256}{2571}
\foreach \yy in {2365,2462,2558,2655,2752}{\cL{3728}{\yy}}
\cR{3965}{2462}\cR{3965}{2655}
\end{pgfonlayer}
\end{tikzpicture}
\end{document}
